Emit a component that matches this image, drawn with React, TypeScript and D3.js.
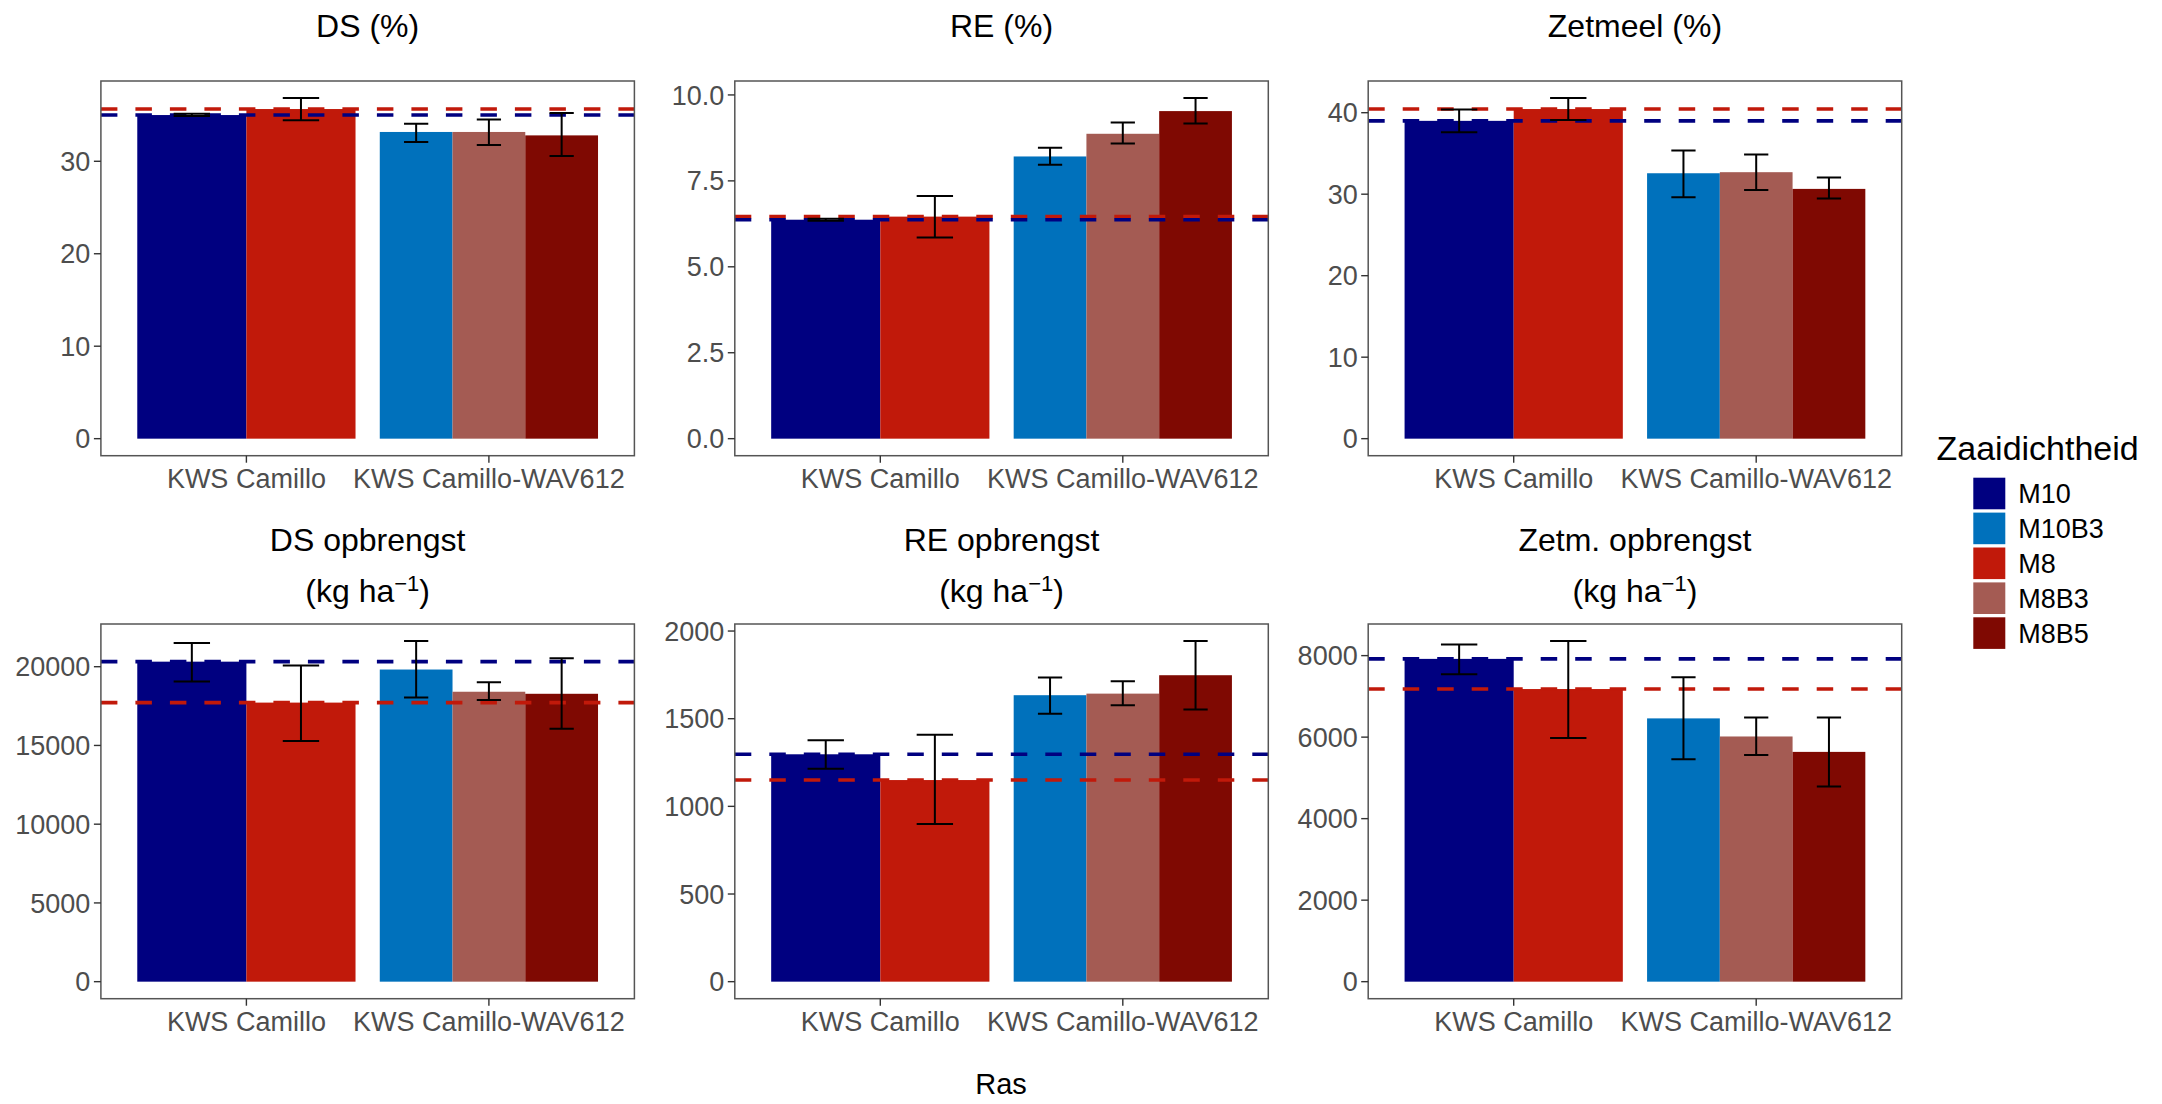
import React from "react";
import * as d3 from "d3";

// ---------- data ----------
const categories = ["KWS Camillo", "KWS Camillo-WAV612"];
const treatments = ["M10", "M10B3", "M8", "M8B3", "M8B5"];
const treatmentColors = ["#000080", "#0071BC", "#C1190A", "#A45B53", "#7F0902"];

// bar order: Camillo M10, Camillo M8, WAV612 M10B3, WAV612 M8B3, WAV612 M8B5
const barCategory = ["KWS Camillo", "KWS Camillo", "KWS Camillo-WAV612", "KWS Camillo-WAV612", "KWS Camillo-WAV612"];
const barTreatment = ["M10", "M8", "M10B3", "M8B3", "M8B5"];

const dsMean = [35.0, 35.65, 33.17, 33.17, 32.8];
const dsLow = [34.9, 34.43, 32.09, 31.76, 30.57];
const dsHigh = [35.15, 36.84, 34.07, 34.53, 35.22];

const reMean = [6.37, 6.46, 8.21, 8.87, 9.53];
const reLow = [6.34, 5.85, 7.97, 8.59, 9.17];
const reHigh = [6.4, 7.06, 8.46, 9.2, 9.91];

const zetMean = [39.0, 40.45, 32.57, 32.7, 30.65];
const zetLow = [37.6, 39.1, 29.63, 30.5, 29.47];
const zetHigh = [40.4, 41.8, 35.35, 34.86, 32.04];

const dsYieldMean = [20320, 17720, 19820, 18410, 18280];
const dsYieldLow = [19067, 15280, 18040, 17890, 16060];
const dsYieldHigh = [21510, 20070, 21630, 19020, 20530];

const reYieldMean = [1297, 1150, 1634, 1643, 1748];
const reYieldLow = [1214, 900, 1528, 1577, 1553];
const reYieldHigh = [1377, 1408, 1735, 1713, 1943];

const zetYieldMean = [7920, 7180, 6460, 6016, 5638];
const zetYieldLow = [7546, 5978, 5459, 5563, 4788];
const zetYieldHigh = [8273, 8358, 7471, 6479, 6479];

const dsTicks = [0, 10, 20, 30];
const reTicks = [0, 2.5, 5, 7.5, 10];
const zetTicks = [0, 10, 20, 30, 40];
const dsYieldTicks = [0, 5000, 10000, 15000, 20000];
const reYieldTicks = [0, 500, 1000, 1500, 2000];
const zetYieldTicks = [0, 2000, 4000, 6000, 8000];

const panelTitles = ["DS (%)", "RE (%)", "Zetmeel (%)", "DS opbrengst", "RE opbrengst", "Zetm. opbrengst"];
const xAxisTitle = "Ras";
const legendTitle = "Zaaidichtheid";

// ---------- layout ----------
const W = 2162;
const H = 1104;
const colLeft = [100.9, 734.8, 1368.2];
const panelW = 533.5;
const rowTop = [81, 624];
const panelH = 374.7;
const FONT = "'Liberation Sans', Arial, Helvetica, sans-serif";

const panels = [
  { title: panelTitles[0], mean: dsMean, low: dsLow, high: dsHigh, ticks: dsTicks, fmt: d3.format("d") },
  { title: panelTitles[1], mean: reMean, low: reLow, high: reHigh, ticks: reTicks, fmt: d3.format(".1f") },
  { title: panelTitles[2], mean: zetMean, low: zetLow, high: zetHigh, ticks: zetTicks, fmt: d3.format("d") },
  { title: panelTitles[3], mean: dsYieldMean, low: dsYieldLow, high: dsYieldHigh, ticks: dsYieldTicks, fmt: d3.format("d") },
  { title: panelTitles[4], mean: reYieldMean, low: reYieldLow, high: reYieldHigh, ticks: reYieldTicks, fmt: d3.format("d") },
  { title: panelTitles[5], mean: zetYieldMean, low: zetYieldLow, high: zetYieldHigh, ticks: zetYieldTicks, fmt: d3.format("d") },
];

const colorOf = (t: string) => treatmentColors[treatments.indexOf(t)];

function Panel({ p, idx }: { p: any; idx: number }) {
  const row = Math.floor(idx / 3);
  const col = idx % 3;
  const left = colLeft[col];
  const top = rowTop[row];
  const right = left + panelW;
  const bottom = top + panelH;

  const x = d3.scaleLinear().domain([0.4, 2.6]).range([left, right]);
  const maxV = d3.max([...p.high, ...p.mean]) as number;
  const y = d3.scaleLinear().domain([-0.05 * maxV, 1.05 * maxV]).range([bottom, top]);

  const bars = p.mean.map((m: number, i: number) => {
    const cat = barCategory[i];
    const ci = categories.indexOf(cat) + 1;
    const members = barTreatment.filter((_, j) => barCategory[j] === cat);
    const k = members.indexOf(barTreatment[i]);
    const w = 0.9 / members.length;
    const x0 = ci - 0.45 + k * w;
    return { x0, x1: x0 + w, mean: m, low: p.low[i], high: p.high[i], color: colorOf(barTreatment[i]) };
  });

  const refM10 = p.mean[barTreatment.indexOf("M10")];
  const refM8 = p.mean[barTreatment.indexOf("M8")];

  const cx = (left + right) / 2;
  const clipId = `clip${idx}`;
  return (
    <g>
      <defs>
        <clipPath id={clipId}>
          <rect x={left} y={top} width={panelW} height={panelH} />
        </clipPath>
      </defs>
      {row === 0 ? (
        <text x={cx} y={37.3} textAnchor="middle" fontSize={32} fill="#000" fontFamily={FONT}>
          {p.title}
        </text>
      ) : (
        <g>
          <text x={cx} y={550.8} textAnchor="middle" fontSize={32} fill="#000" fontFamily={FONT}>
            {p.title}
          </text>
          <text x={cx} y={601.5} textAnchor="middle" fontSize={32} fill="#000" fontFamily={FONT}>
            (kg ha
            <tspan fontSize={22} dy={-11}>−1</tspan>
            <tspan dy={11}>)</tspan>
          </text>
        </g>
      )}
      <g clipPath={`url(#${clipId})`}>
        {bars.map((b: any, i: number) => (
          <rect
            key={i}
            x={x(b.x0)}
            width={x(b.x1) - x(b.x0)}
            y={y(b.mean)}
            height={y(0) - y(b.mean)}
            fill={b.color}
          />
        ))}
        <line x1={left} x2={right} y1={y(refM8)} y2={y(refM8)} stroke={colorOf("M8")} strokeWidth={3.6} strokeDasharray="16.5 18" />
        <line x1={left} x2={right} y1={y(refM10)} y2={y(refM10)} stroke={colorOf("M10")} strokeWidth={3.6} strokeDasharray="16.5 18" />
        {bars.map((b: any, i: number) => {
          const mid = (b.x0 + b.x1) / 2;
          const half = (b.x1 - b.x0) / 6;
          return (
            <g key={`e${i}`} stroke="#000" strokeWidth={2} fill="none">
              <line x1={x(mid)} x2={x(mid)} y1={y(b.low)} y2={y(b.high)} />
              <line x1={x(mid - half)} x2={x(mid + half)} y1={y(b.low)} y2={y(b.low)} />
              <line x1={x(mid - half)} x2={x(mid + half)} y1={y(b.high)} y2={y(b.high)} />
            </g>
          );
        })}
      </g>
      <rect x={left} y={top} width={panelW} height={panelH} fill="none" stroke="#555" strokeWidth={1.5} />
      {p.ticks.map((t: number) => (
        <g key={`y${t}`}>
          <line x1={left - 7} x2={left} y1={y(t)} y2={y(t)} stroke="#333" strokeWidth={1.4} />
          <text x={left - 10.5} y={y(t) + 9.6} textAnchor="end" fontSize={27} fill="#4D4D4D" fontFamily={FONT}>
            {p.fmt(t)}
          </text>
        </g>
      ))}
      {categories.map((c, i) => (
        <g key={`x${c}`}>
          <line x1={x(i + 1)} x2={x(i + 1)} y1={bottom} y2={bottom + 7} stroke="#333" strokeWidth={1.4} />
          <text x={x(i + 1)} y={bottom + 31.8} textAnchor="middle" fontSize={27} fill="#4D4D4D" fontFamily={FONT}>
            {c}
          </text>
        </g>
      ))}
    </g>
  );
}

export default function App() {
  const legendX = 1973.3;
  const legendY0 = 477.7;
  const legendStep = 34.9;
  return (
    <svg
      width={W}
      height={H}
      viewBox={`0 0 ${W} ${H}`}
      style={{ position: "absolute", left: 0, top: 0, background: "#fff", display: "block" }}
    >
      <rect x={0} y={0} width={W} height={H} fill="#fff" />
      {panels.map((p, i) => (
        <Panel key={i} p={p} idx={i} />
      ))}
      <text x={1001} y={1094} textAnchor="middle" fontSize={29} fill="#000" fontFamily={FONT}>
        {xAxisTitle}
      </text>
      <text x={1936.5} y={460} fontSize={34} fill="#000" fontFamily={FONT}>
        {legendTitle}
      </text>
      {treatments.map((t, i) => (
        <g key={t}>
          <rect x={legendX} y={legendY0 + i * legendStep} width={32} height={31.6} fill={treatmentColors[i]} />
          <text x={2018.3} y={legendY0 + i * legendStep + 25.6} fontSize={27} fill="#000" fontFamily={FONT}>
            {t}
          </text>
        </g>
      ))}
    </svg>
  );
}
